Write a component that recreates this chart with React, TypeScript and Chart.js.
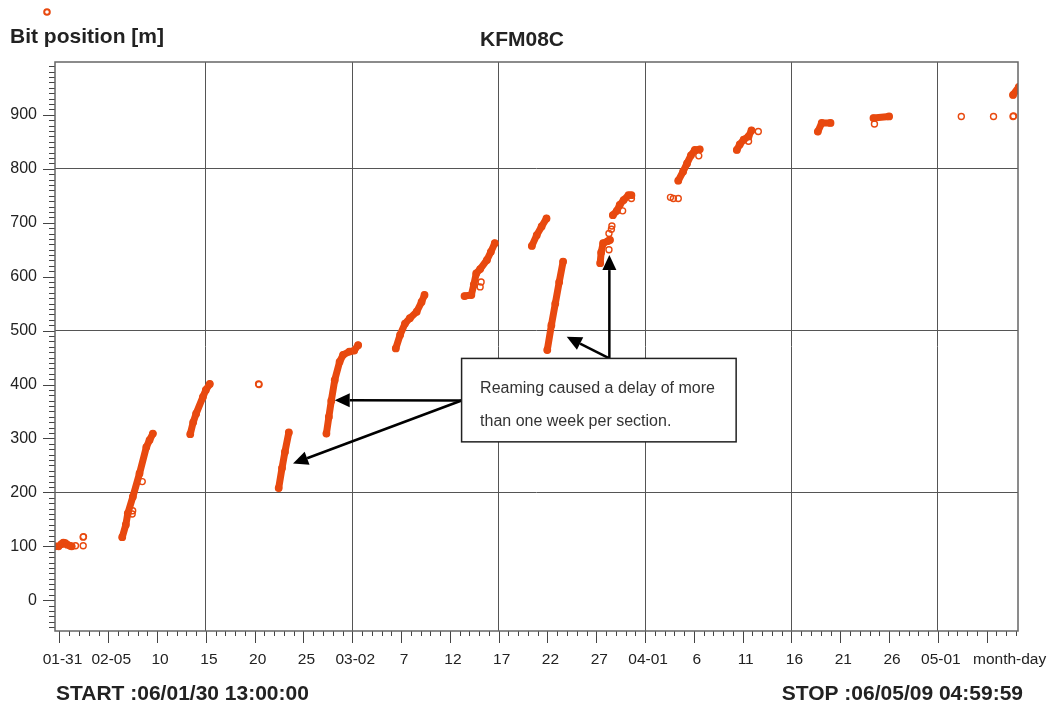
import React, { useEffect, useRef } from "react";
import { Chart, registerables } from "chart.js";

Chart.register(...registerables);

const FONT = "'Liberation Sans', Arial, Helvetica, sans-serif";
const ORANGE = "#E8490F";
const INK = "#222222";

// x = days since 2006-01-31 00:00
const xStart = -0.4583; // 06/01/30 13:00:00
const xStop = 98.2083; // 06/05/09 04:59:59
const xTickDays = [0, 5, 10, 15, 20, 25, 30, 35, 40, 45, 50, 55, 60, 65, 70, 75, 80, 85, 90];
const xTickLabels = ["01-31", "02-05", "10", "15", "20", "25", "03-02", "7", "12", "17", "22", "27", "04-01", "6", "11", "16", "21", "26", "05-01"];
const xGridDays = [15, 30, 45, 60, 75, 90];

const yMin = -57;
const yMax = 998;
const yTickValues = [0, 100, 200, 300, 400, 500, 600, 700, 800, 900];
const yGridValues = [200, 500, 800];

// drilling runs [day, bit position m]
const run01 = [[-0.45, 100], [-0.1, 100], [0.2, 104], [0.4, 107], [0.6, 106], [0.8, 103], [1.1, 101], [1.25, 100]];
const run02 = [[6.43, 117], [6.8, 140], [7.0, 161], [7.52, 192], [8.2, 235], [8.9, 284], [9.23, 297], [9.57, 309]];
const run03 = [[13.4, 308], [13.7, 330], [14.0, 346], [14.7, 377], [15.0, 390], [15.4, 401]];
const run04 = [[22.46, 208], [22.8, 245], [23.1, 275], [23.5, 311]];
const run05 = [[27.35, 309], [27.6, 340], [27.85, 370], [28.2, 408], [28.7, 442], [29.06, 455], [29.7, 461], [30.2, 463], [30.6, 473]];
const run06 = [[34.46, 467], [34.9, 492], [35.4, 513], [35.9, 523], [36.6, 535], [37.1, 553], [37.4, 566]];
const run07 = [[41.5, 564], [42.2, 566], [42.45, 585], [42.7, 606], [43.1, 614], [43.8, 631], [44.2, 646], [44.6, 662]];
const run08 = [[48.4, 657], [48.9, 677], [49.4, 693], [49.9, 708]];
const run09 = [[49.98, 464], [50.4, 510], [50.8, 550], [51.2, 590], [51.6, 628]];
const run10 = [[55.4, 625], [55.5, 645], [55.7, 662], [56.2, 666], [56.4, 668]];
const run11 = [[56.7, 714], [57.1, 722], [57.4, 733], [57.8, 742], [58.3, 751], [58.6, 751]];
const run12 = [[63.4, 778], [63.9, 795], [64.3, 810], [64.7, 825], [65.1, 835], [65.6, 836]];
const run13 = [[69.4, 835], [69.7, 845], [70.1, 854], [70.6, 860], [70.9, 871]];
const run14 = [[77.7, 869], [78.1, 885], [79.0, 885]];
const run15 = [[83.4, 894], [85.0, 897]];
const run16 = [[97.7, 937], [98.3, 952]];
const runs = [run01, run02, run03, run04, run05, run06, run07, run08, run09, run10, run11, run12, run13, run14, run15, run16];

// single readings
const singles = [
  [1.64, 101], [2.43, 101], [2.43, 117], [2.46, 118],
  [7.45, 160], [7.5, 166], [8.48, 220],
  [20.4, 401], [20.45, 400],
  [43.1, 581], [43.2, 590],
  [56.3, 650], [56.3, 680], [56.55, 688], [56.6, 694],
  [57.7, 722], [58.6, 745],
  [62.6, 747], [62.9, 745], [63.4, 745],
  [65.5, 824],
  [70.6, 851], [71.6, 869],
  [83.5, 883],
  [92.4, 897], [95.7, 897], [97.7, 897], [97.75, 898],
];

// annotation (data coordinates)
const noteBox = { x0: 41.2, x1: 69.33, yTop: 448.4, yBottom: 293.7 };
const noteLines = ["Reaming caused a delay of more", "than one week per section."];
const arrows = [
  { from: [41.2, 370.3], to: [28.2, 371] },
  { from: [41.2, 370.3], to: [23.93, 253.6] },
  { from: [56.34, 448.4], to: [51.97, 488.5] },
  { from: [56.34, 448.4], to: [56.34, 640] },
];

const toXY = (arr: number[][]) => arr.map(([x, y]) => ({ x, y }));

function drawArrow(ctx: CanvasRenderingContext2D, x0: number, y0: number, x1: number, y1: number) {
  const ang = Math.atan2(y1 - y0, x1 - x0);
  const L = 15;
  const W = 7;
  const bx = x1 - L * Math.cos(ang);
  const by = y1 - L * Math.sin(ang);
  ctx.beginPath();
  ctx.moveTo(x0, y0);
  ctx.lineTo(bx, by);
  ctx.stroke();
  ctx.beginPath();
  ctx.moveTo(x1, y1);
  ctx.lineTo(bx + W * Math.sin(ang), by - W * Math.cos(ang));
  ctx.lineTo(bx - W * Math.sin(ang), by + W * Math.cos(ang));
  ctx.closePath();
  ctx.fill();
}

const decorPlugin = {
  id: "decor",
  afterDraw(chart: any) {
    const { ctx, chartArea: a, scales } = chart;
    const xs = scales.x;
    const ys = scales.y;
    ctx.save();

    // minor / major tick marks
    ctx.strokeStyle = "#444";
    ctx.lineWidth = 1;
    ctx.beginPath();
    for (let d = 0; d <= Math.floor(xStop); d++) {
      const px = Math.round(xs.getPixelForValue(d)) + 0.5;
      const len = d % 5 === 0 ? 12 : 5;
      ctx.moveTo(px, a.bottom);
      ctx.lineTo(px, a.bottom + len);
    }
    for (let v = -50; v <= 990; v += 10) {
      const py = Math.round(ys.getPixelForValue(v)) + 0.5;
      const len = v % 100 === 0 ? 12 : 6;
      ctx.moveTo(a.left, py);
      ctx.lineTo(a.left - len, py);
    }
    ctx.stroke();

    // frame
    ctx.strokeStyle = "#666";
    ctx.lineWidth = 1.5;
    ctx.strokeRect(a.left, a.top, a.right - a.left, a.bottom - a.top);

    // texts
    ctx.fillStyle = INK;
    ctx.textBaseline = "alphabetic";
    ctx.font = `bold 21px ${FONT}`;
    ctx.textAlign = "left";
    ctx.fillText("Bit position [m]", 10, 43);
    ctx.textAlign = "center";
    ctx.fillText("KFM08C", 522, 46);
    ctx.textAlign = "left";
    ctx.fillText("START :06/01/30 13:00:00", 56, 700);
    ctx.textAlign = "right";
    ctx.fillText("STOP :06/05/09 04:59:59", 1023, 700);
    ctx.font = `15.5px ${FONT}`;
    ctx.textAlign = "left";
    ctx.textBaseline = "middle";
    ctx.fillText("month-day", 973, 660);

    // legend symbol
    ctx.strokeStyle = ORANGE;
    ctx.lineWidth = 2;
    ctx.beginPath();
    ctx.arc(47, 12, 2.8, 0, Math.PI * 2);
    ctx.stroke();

    // annotation arrows
    ctx.strokeStyle = "#000";
    ctx.fillStyle = "#000";
    ctx.lineWidth = 2.5;
    for (const ar of arrows) {
      drawArrow(
        ctx,
        xs.getPixelForValue(ar.from[0]),
        ys.getPixelForValue(ar.from[1]),
        xs.getPixelForValue(ar.to[0]),
        ys.getPixelForValue(ar.to[1])
      );
    }

    // annotation box
    const bx0 = xs.getPixelForValue(noteBox.x0);
    const bx1 = xs.getPixelForValue(noteBox.x1);
    const by0 = ys.getPixelForValue(noteBox.yTop);
    const by1 = ys.getPixelForValue(noteBox.yBottom);
    ctx.fillStyle = "#fff";
    ctx.fillRect(bx0, by0, bx1 - bx0, by1 - by0);
    ctx.strokeStyle = "#222";
    ctx.lineWidth = 1.5;
    ctx.strokeRect(bx0, by0, bx1 - bx0, by1 - by0);
    ctx.fillStyle = "#333";
    ctx.font = `16px ${FONT}`;
    ctx.textAlign = "left";
    ctx.textBaseline = "alphabetic";
    ctx.fillText(noteLines[0], bx0 + 18.5, by0 + 35);
    ctx.fillText(noteLines[1], bx0 + 18.5, by0 + 68);

    ctx.restore();
  },
};

export default function App() {
  const ref = useRef<HTMLCanvasElement | null>(null);

  useEffect(() => {
    document.body.style.margin = "0";
    if (!ref.current) return;
    Chart.defaults.font.family = FONT;

    const runDatasets = runs.map((r) => ({
      data: toXY(r),
      showLine: true,
      borderColor: ORANGE,
      borderWidth: 7,
      borderCapStyle: "round" as const,
      borderJoinStyle: "round" as const,
      pointRadius: 3.2,
      pointBorderWidth: 1.4,
      pointBorderColor: ORANGE,
      pointBackgroundColor: "rgba(0,0,0,0)",
    }));

    const chart = new Chart(ref.current, {
      type: "scatter",
      data: {
        datasets: [
          ...runDatasets,
          {
            data: toXY(singles),
            showLine: false,
            pointRadius: 3,
            pointBorderWidth: 1.4,
            pointBorderColor: ORANGE,
            pointBackgroundColor: "rgba(0,0,0,0)",
          },
        ],
      },
      options: {
        animation: false,
        responsive: false,
        events: [],
        layout: { padding: { top: 62, left: 0, right: 36, bottom: 0 } },
        plugins: { legend: { display: false }, tooltip: { enabled: false } },
        scales: {
          x: {
            type: "linear",
            min: xStart,
            max: xStop,
            afterFit: (s: any) => {
              s.height = 75;
            },
            afterBuildTicks: (s: any) => {
              s.ticks = xTickDays.map((v) => ({ value: v }));
            },
            border: { display: false },
            grid: {
              drawTicks: false,
              lineWidth: 1,
              color: (c: any) => (c.tick && xGridDays.includes(c.tick.value) ? "#555" : "rgba(0,0,0,0)"),
            },
            ticks: {
              autoSkip: false,
              maxRotation: 0,
              padding: 19,
              labelOffset: 3,
              color: INK,
              font: { size: 15.5, family: FONT },
              callback: (v: any) => {
                const i = xTickDays.indexOf(Number(v));
                return i >= 0 ? xTickLabels[i] : "";
              },
            },
          },
          y: {
            type: "linear",
            min: yMin,
            max: yMax,
            afterFit: (s: any) => {
              s.width = 55;
            },
            afterBuildTicks: (s: any) => {
              s.ticks = yTickValues.map((v) => ({ value: v }));
            },
            border: { display: false },
            grid: {
              drawTicks: false,
              lineWidth: 1,
              color: (c: any) => (c.tick && yGridValues.includes(c.tick.value) ? "#555" : "rgba(0,0,0,0)"),
            },
            ticks: {
              padding: 18,
              color: INK,
              font: { size: 16, family: FONT },
              callback: (v: any) => String(v),
            },
          },
        },
      },
      plugins: [decorPlugin],
    });

    return () => chart.destroy();
  }, []);

  return (
    <div style={{ width: 1054, height: 706, background: "#fff" }}>
      <canvas ref={ref} width={1054} height={706} style={{ display: "block" }} />
    </div>
  );
}
